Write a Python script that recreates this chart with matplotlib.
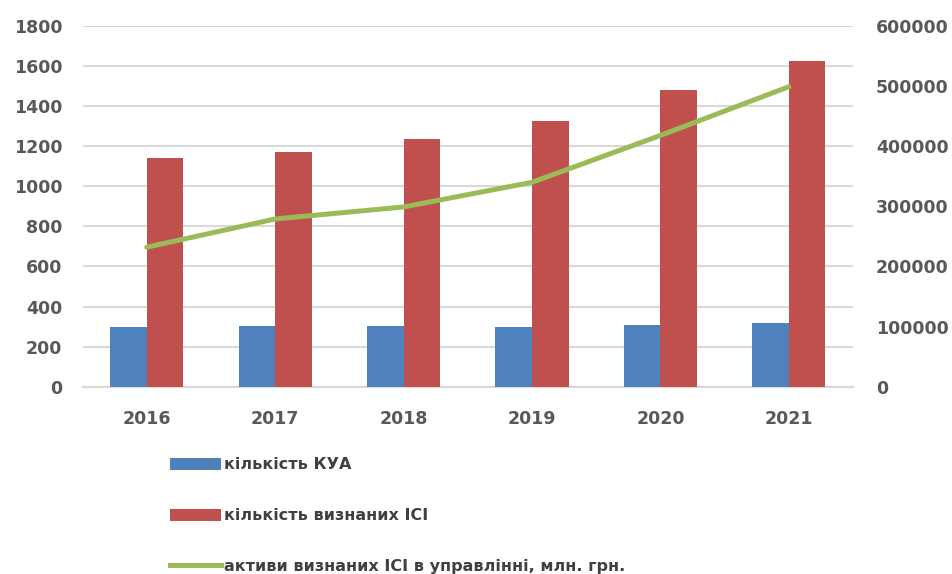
import matplotlib
matplotlib.use("Agg")
import matplotlib.pyplot as plt
import numpy as np
from matplotlib.patches import Patch
from matplotlib.lines import Line2D

years = ["2016", "2017", "2018", "2019", "2020", "2021"]
kua_count = [296, 303, 303, 296, 308, 316]
ici_count = [1139, 1172, 1235, 1325, 1480, 1626]
ici_assets = [232000, 279000, 299000, 340000, 418000, 499000]

label_kua = "кількість КУА"
label_ici = "кількість визнаних ІСІ"
label_assets = "активи визнаних ІСІ в управлінні, млн. грн."

plt.rcParams['font.family'] = ['DejaVu Sans']
txt_color = "#595959"
grid_color = "#D9D9D9"

fig = plt.figure(figsize=(9.53, 5.74), dpi=100)
ax = fig.add_axes([0.0866, 0.3263, 0.8085, 0.6284])
ax2 = ax.twinx()

x = np.arange(len(years))
w = 0.285
ax.bar(x - w / 2, kua_count, width=w, color="#4F81BD", zorder=3)
ax.bar(x + w / 2, ici_count, width=w, color="#C0504D", zorder=3)
ax.set_xlim(-0.5, len(years) - 0.5)
ax.set_ylim(0, 1800)
ax.set_yticks(np.arange(0, 1801, 200))
ax.yaxis.grid(True, color=grid_color, linewidth=1.5, zorder=0)
ax.set_axisbelow(True)

ax2.plot(x, ici_assets, color="#9BBB59", linewidth=3.6, solid_capstyle="round", zorder=4)
ax2.set_ylim(0, 600000)
ax2.set_yticks(np.arange(0, 600001, 100000))

ax.set_xticks(x)
ax.set_xticklabels(years)

for a in (ax, ax2):
    for s in ("top", "left", "right"):
        a.spines[s].set_visible(False)
    a.spines["bottom"].set_visible(a is ax)
ax.spines["bottom"].set_color(grid_color)
ax.spines["bottom"].set_linewidth(1.5)

fs = 12.5
ax.tick_params(axis="y", length=0, pad=14.5, labelsize=fs, labelcolor=txt_color)
ax2.tick_params(axis="y", length=0, pad=16.5, labelsize=fs, labelcolor=txt_color)
ax.tick_params(axis="x", length=0, pad=17, labelsize=fs, labelcolor=txt_color)
for lbl in ax.get_yticklabels() + ax2.get_yticklabels() + ax.get_xticklabels():
    lbl.set_fontweight("bold")

ax2.set_zorder(ax.get_zorder() + 1)
ax2.patch.set_visible(False)

handles = [
    Patch(facecolor="#4F81BD", edgecolor="none"),
    Patch(facecolor="#C0504D", edgecolor="none"),
    Line2D([0], [0], color="#9BBB59", linewidth=3.6),
]
leg = fig.legend(handles, [label_kua, label_ici, label_assets],
                 loc="upper left", bbox_to_anchor=(0.178, 0.2035),
                 frameon=False, borderpad=0, borderaxespad=0,
                 handlelength=3.2, handleheight=0.78, handletextpad=0.2,
                 labelspacing=2.25,
                 prop={"size": 11.5, "weight": "bold"})
for t in leg.get_texts():
    t.set_color("#404040")

fig.savefig("out.png", dpi=100)
